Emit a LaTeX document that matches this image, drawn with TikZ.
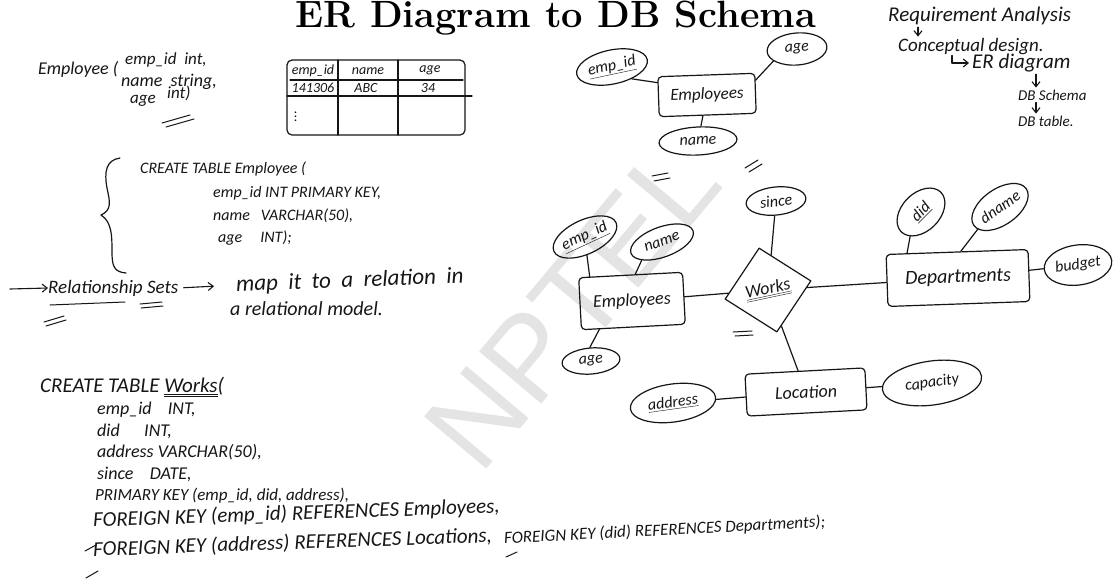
\documentclass[tikz,border=0pt]{standalone}
\usepackage{fontspec}
\usepackage{tikz}
\usetikzlibrary{arrows.meta,positioning,shapes.geometric}
\newfontfamily\handfont{Carlito}
\newfontfamily\markfont{Liberation Sans}
\definecolor{inkdark}{HTML}{161616}
\definecolor{marklight}{HTML}{E4E4E4}

\begin{document}
\begin{tikzpicture}[
        x=1pt, y=-1pt,
        ink/.style={draw=inkdark, line width=1.2pt, line cap=round, line join=round},
        hand/.style={font=\handfont\itshape\fontsize{#1}{#1}\selectfont, text=inkdark, inner sep=0pt, anchor=west},
        hand/.default=17,
        entity/.style={ink, rounded corners=4pt, inner sep=0pt, text=inkdark,
            font=\handfont\itshape\fontsize{#1}{#1}\selectfont},
        entity/.default=18,
        attr/.style={ink, ellipse, inner sep=0pt, text=inkdark,
            font=\handfont\itshape\fontsize{#1}{#1}\selectfont},
        attr/.default=16,
        relship/.style={ink, diamond, inner sep=0pt, minimum width=88pt, minimum height=86pt,
            text=inkdark, font=\handfont\itshape\fontsize{18}{18}\selectfont},
        pen/.style={ink, line width=1.1pt, -{Straight Barb[length=5pt,width=8pt]}},
        strike/.style={ink, line width=1pt}
    ]
    \useasboundingbox (0,0) rectangle (1117,579);
    \fill[white] (0,0) rectangle (1117,579);

    % watermark behind everything
    \node[font=\markfont\fontsize{118}{118}\selectfont, text=marklight, rotate=50, inner sep=0pt] (wmark) at (572,305) {NPTEL};

    \node[font=\bfseries\fontsize{38}{38}\selectfont, anchor=base, inner sep=0pt] (title) at (556,27) {ER Diagram to DB Schema};

    % relation written out
    \node[hand=18] (emphead) at (38,69) {Employee (};
    \node[hand=17] (empcol1) at (125,60) {emp\_id\ \ int,};
    \node[hand=18] (empcol2) at (121,82) {name\ \ string,};
    \node[hand=17] (empcol3) at (130,101) {age};
    \node[hand=17] (empcol4) at (167,93) {int)};
    \draw[strike] (162,123) -- (190,115);
    \draw[strike] (166,127) -- (194,119);

    % sample rows
    \draw[ink, rounded corners=5pt] (287,60) rectangle (465,135);
    \draw[ink] (290,80) -- (463,80);
    \draw[ink] (287,96) -- (472,96);
    \draw[ink] (338,60) -- (338,135);
    \draw[ink] (398,60) -- (398,135);
    \node[hand=14, anchor=center] (th1) at (313,71) {emp\_id};
    \node[hand=14, anchor=center] (th2) at (368,71) {name};
    \node[hand=14, anchor=center] (th3) at (430,70) {age};
    \node[hand=14, anchor=center] (td1) at (313,88) {141306};
    \node[hand=14, anchor=center] (td2) at (366,88) {ABC};
    \node[hand=14, anchor=center] (td3) at (428,88) {34};
    \node[hand=14, anchor=center] (tdots) at (296,114) {$\vdots$};

    % brace and the first table
    \draw[ink] (120,158) .. controls (106,160) and (104,172) .. (107,188)
        .. controls (110,202) and (112,210) .. (101,215)
        .. controls (112,222) and (112,236) .. (112,252)
        .. controls (112,266) and (114,272) .. (126,273);
    \node[hand=16] (sqlemp0) at (140,169) {CREATE TABLE Employee (};
    \node[hand=16] (sqlemp1) at (213,193) {emp\_id INT PRIMARY KEY,};
    \node[hand=16] (sqlemp2) at (213,216) {name\ \ \ VARCHAR(50),};
    \node[hand=16] (sqlemp3) at (218,238) {age\ \ \ \ \ INT);};

    % relationship sets note
    \coordinate (relstart) at (10,289);
    \node[hand=19] (relsets) at (48,288) {Relationship Sets};
    \node[hand=23, rotate=2] (relmap) at (236,285) {map\ \ it\ \ to\ \ a\ \ relation\ \ in};
    \node[hand=20] (relmodel) at (230,309) {a relational model.};
    \draw[pen] (relstart) -- (relsets.west);
    \draw[pen, shorten <=5pt, shorten >=22pt] (relsets.east) -- (relmap.west);
    \draw[strike] (50,305) -- (125,302);
    \draw[strike] (140,304) -- (162,302);
    \draw[strike] (141,308) -- (163,306);
    \draw[strike] (44,322) -- (64,316);
    \draw[strike] (46,326) -- (66,320);

    % the Works table
    \node[hand=21] (sqlwk0) at (40,387) {CREATE TABLE \underline{\underline{Works}}(};
    \node[hand=18] (sqlwk1) at (97,410) {emp\_id\ \ \ \ INT,};
    \node[hand=18] (sqlwk2) at (97,431) {did\ \ \ \ \ \ INT,};
    \node[hand=18] (sqlwk3) at (97,452) {address VARCHAR(50),};
    \node[hand=18] (sqlwk4) at (97,474) {since\ \ \ \ DATE,};
    \node[hand=17] (sqlwk5) at (95,496) {PRIMARY KEY (emp\_id, did, address),};
    \node[hand=21, rotate=2] (sqlwk6) at (93,521) {FOREIGN KEY (emp\_id) REFERENCES Employees,};
    \node[hand=21, rotate=2] (sqlwk7) at (93,550) {FOREIGN KEY (address) REFERENCES Locations,};
    \node[hand=17, rotate=3] (sqlwk8) at (504,539) {FOREIGN KEY (did) REFERENCES Departments);};
    \draw[strike] (85,551) -- (96,545);
    \draw[strike] (86,578) -- (98,571);
    \draw[strike] (506,557) -- (517,552);

    % design steps
    \node[hand=21] (reqan) at (888,16) {Requirement Analysis};
    \node[hand=19] (concept) at (898,47) {Conceptual design.};
    \node[hand=21] (erdiag) at (972,63) {ER diagram};
    \node[hand=15] (dbschema) at (1018,95) {DB Schema};
    \node[hand=15] (dbtable) at (1018,121) {DB table.};
    \coordinate (reqdrop) at (918,0);
    \coordinate (hookx) at (952,0);
    \coordinate (schemadrop) at (1036,0);
    \draw[pen, shorten <=2pt, shorten >=2pt] (reqan.south -| reqdrop) -- (concept.north -| reqdrop);
    \draw[pen, shorten >=3pt] (concept.south -| hookx) |- (erdiag.west);
    \draw[pen, shorten <=2pt, shorten >=2pt] (erdiag.south -| schemadrop) -- (dbschema.north -| schemadrop);
    \draw[pen, shorten <=2pt, shorten >=2pt] (dbschema.south -| schemadrop) -- (dbtable.north -| schemadrop);

    % small entity sketch
    \node[entity=17, minimum width=97pt, minimum height=40pt, rotate=2] (temp) at (707,95) {Employees};
    \node[attr, minimum width=72pt, minimum height=34pt, rotate=12] (tempid) at (612,67) {\underline{emp\_id}};
    \node[attr, minimum width=60pt, minimum height=32pt, rotate=5] (tage) at (797,49) {age};
    \node[attr, minimum width=78pt, minimum height=28pt, rotate=3] (tname) at (698,141) {name};
    \draw[ink] (tempid.317) -- (temp.164);
    \draw[ink] (temp.15) -- (tage.202);
    \draw[ink] (temp) -- (tname);
    \draw[strike] (745,168) -- (758,160);
    \draw[strike] (749,172) -- (762,164);
    \draw[strike] (652,176) -- (668,173);
    \draw[strike] (654,181) -- (670,178);

    % full ER diagram
    \node[entity, minimum width=104pt, minimum height=52pt, rotate=3] (emp) at (632,301) {Employees};
    \node[attr, minimum width=66pt, minimum height=34pt, rotate=25] (empid) at (585,237) {\underline{emp\_id}};
    \node[attr, minimum width=66pt, minimum height=30pt, rotate=20] (ename) at (662,242) {name};
    \node[attr, minimum width=58pt, minimum height=26pt, rotate=5] (eage) at (591,361) {age};
    \node[relship, rotate=12] (works) at (768,290) {\underline{\underline{Works}}};
    \node[attr, minimum width=60pt, minimum height=28pt, rotate=6] (since) at (776,201) {since};
    \node[entity=20, minimum width=142pt, minimum height=52pt, rotate=2] (dept) at (958,278) {Departments};
    \node[attr, minimum width=56pt, minimum height=38pt, rotate=45] (did) at (921,212) {\underline{did}};
    \node[attr, minimum width=64pt, minimum height=36pt, rotate=35] (dname) at (1000,207) {dname};
    \node[attr, minimum width=68pt, minimum height=40pt, rotate=8] (budget) at (1078,265) {budget};
    \node[entity, minimum width=120pt, minimum height=42pt, rotate=3] (loc) at (806,392) {Location};
    \node[attr, minimum width=86pt, minimum height=38pt, rotate=8] (addr) at (673,403) {\underline{address}};
    \node[attr, minimum width=100pt, minimum height=44pt, rotate=8] (cap) at (932,383) {capacity};

    \draw[ink] (empid.251) -- (emp.147);
    \draw[ink] (ename.202) -- (emp.80);
    \draw[ink] (emp.218) -- (eage.north);
    \draw[ink] (emp) -- (works);
    \draw[ink] (since) -- (works);
    \draw[ink] (works) -- (dept);
    \draw[ink] (works) -- (loc);
    \draw[ink] (did.201) -- (dept.152);
    \draw[ink] (dname.190) -- (dept.82);
    \draw[ink] (dept) -- (budget);
    \draw[ink] (addr) -- (loc);
    \draw[ink] (loc) -- (cap);
    \draw[strike] (733,332) -- (752,331);
    \draw[strike] (735,336) -- (753,335);
\end{tikzpicture}
\end{document}
